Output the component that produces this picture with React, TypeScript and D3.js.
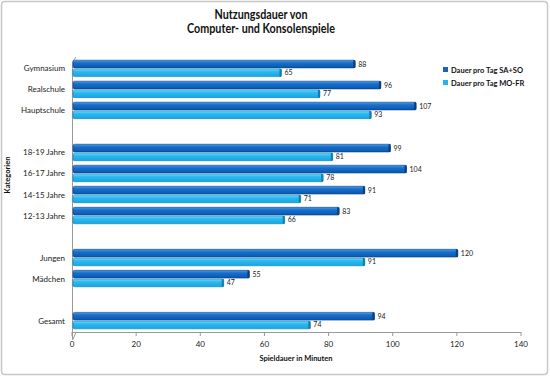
import React from "react";
import * as d3 from "d3";

const categories = [
  "Gymnasium", "Realschule", "Hauptschule", "",
  "18-19 Jahre", "16-17 Jahre", "14-15 Jahre", "12-13 Jahre", " ",
  "Jungen", "Mädchen", "  ", "Gesamt",
];
const weekend: (number | null)[] = [88, 96, 107, null, 99, 104, 91, 83, null, 120, 55, null, 94];
const weekday: (number | null)[] = [65, 77, 93, null, 81, 78, 71, 66, null, 91, 47, null, 74];
const seriesNames = ["Dauer pro Tag SA+SO", "Dauer pro Tag MO-FR"];
const xTicks = [0, 20, 40, 60, 80, 100, 120, 140];

const W = 550, H = 377;
const font = "Lato, 'Open Sans', sans-serif";

export default function App() {
  const x = d3.scaleLinear().domain([0, 140]).range([72, 521]);
  const y = d3.scaleBand<string>().domain(categories).range([58, 331]).paddingInner(0.17).paddingOuter(0.08);
  const bh = y.bandwidth() / 2;
  const series = [weekend, weekday];
  const fills = ["url(#gDark)", "url(#gLight)"];
  const ends = ["#0a3f80", "#0f7fb0"];

  return (
    <svg width={W} height={H} style={{ position: "absolute", left: 0, top: 0, background: "#fff" }} fontFamily={font}>
      <defs>
        <linearGradient id="gDark" x1="0" y1="0" x2="0" y2="1">
          <stop offset="0" stopColor="#4a9be6" />
          <stop offset="0.35" stopColor="#176fcc" />
          <stop offset="1" stopColor="#0b57ad" />
        </linearGradient>
        <linearGradient id="gLight" x1="0" y1="0" x2="0" y2="1">
          <stop offset="0" stopColor="#7ed8f8" />
          <stop offset="0.35" stopColor="#2dbaf0" />
          <stop offset="1" stopColor="#16a6e2" />
        </linearGradient>
      </defs>
      <rect x={1.5} y={1.5} width={W - 4} height={H - 4} rx={3} fill="#fff" stroke="#c8c8c8" strokeWidth={1.5} />
      <text x={261} y={19} textAnchor="middle" fontSize={12.5} fontWeight="bold" fill="#111" textLength={93} lengthAdjust="spacingAndGlyphs">Nutzungsdauer von</text>
      <text x={261} y={33} textAnchor="middle" fontSize={12.5} fontWeight="bold" fill="#111" textLength={148} lengthAdjust="spacingAndGlyphs">Computer- und Konsolenspiele</text>

      {/* 3D wall edges */}
      <line x1={72.5} y1={62} x2={72.5} y2={340} stroke="#999" strokeWidth={1} />
      <line x1={72.5} y1={62} x2={76} y2={57} stroke="#999" strokeWidth={1} />
      <line x1={72} y1={332.5} x2={521} y2={332.5} stroke="#999" strokeWidth={1} />
      <line x1={72.5} y1={340} x2={76} y2={332.5} stroke="#999" strokeWidth={1} />

      {xTicks.map((t) => (
        <g key={t}>
          <line x1={x(t)} y1={332} x2={x(t)} y2={336} stroke="#999" />
          <text x={x(t)} y={347} textAnchor="middle" fontSize={8} fill="#222">{t}</text>
        </g>
      ))}
      <text x={296} y={361} textAnchor="middle" fontSize={7.5} fontWeight="bold" fill="#111">Spieldauer in Minuten</text>
      <text transform="translate(10,175) rotate(-90)" textAnchor="middle" fontSize={7.5} fontWeight="bold" fill="#111">Kategorien</text>

      {categories.map((c, i) => {
        if (weekend[i] == null) return null;
        const y0 = y(c)!;
        return (
          <g key={i}>
            <text x={65} y={y0 + bh + 3} textAnchor="end" fontSize={8} fill="#222">{c}</text>
            {series.map((s, k) => {
              const v = s[i] as number;
              const yy = y0 + k * bh;
              return (
                <g key={k}>
                  <rect x={x(0) + 1} y={yy + 0.5} width={x(v) - x(0)} height={bh - 1} rx={1.5} fill={fills[k]} stroke={ends[k]} strokeWidth={0.6} />
                  <rect x={x(v) - 1} y={yy + 0.5} width={2} height={bh - 1} fill={ends[k]} />
                  <text x={x(v) + 4} y={yy + bh / 2 + 2.5} fontSize={7} fill="#222">{v}</text>
                </g>
              );
            })}
          </g>
        );
      })}

      {seriesNames.map((n, k) => (
        <g key={n}>
          <rect x={443} y={67 + k * 13} width={5} height={5} fill={k === 0 ? "#1a64b8" : "#22b3ee"} />
          <text x={451} y={72.5 + k * 13} fontSize={7.5} fontWeight="bold" fill="#111">{n}</text>
        </g>
      ))}
    </svg>
  );
}
